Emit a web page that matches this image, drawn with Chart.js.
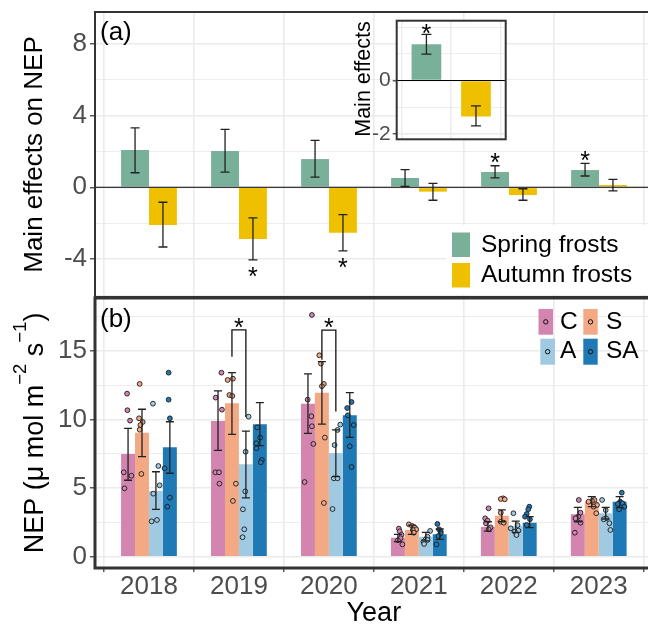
<!DOCTYPE html>
<html><head><meta charset="utf-8">
<script src="https://cdn.jsdelivr.net/npm/chart.js@4.4.1/dist/chart.umd.min.js"></script>
<style>
html,body{margin:0;padding:0;background:#fff;overflow:hidden;}
body{width:648px;height:626px;position:relative;}
canvas{position:absolute;display:block;}
#ca{left:0;top:0;}
#cb{left:0;top:290px;}
#ci{left:350px;top:10px;}
</style></head>
<body>
<canvas id="ca" width="656" height="298"></canvas>
<canvas id="cb" width="656" height="336"></canvas>
<canvas id="ci" width="160" height="135"></canvas>
<script>
// ---------------- data: panel (a) ----------------
const years = ['2018','2019','2020','2021','2022','2023'];
const effectLabels = ['Spring frosts','Autumn frosts'];
const springMean = [2.07, 2.02, 1.57, 0.52, 0.85, 0.96];
const springLo   = [0.81, 0.85, 0.57, 0.05, 0.53, 0.63];
const springHi   = [3.31, 3.22, 2.61, 0.98, 1.20, 1.33];
const springSig  = ['', '', '', '', '*', '*'];
const autumnMean = [-2.09, -2.87, -2.52, -0.24, -0.43, 0.13];
const autumnLo   = [-3.32, -4.04, -3.54, -0.72, -0.72, -0.20];
const autumnHi   = [-0.83, -1.70, -1.52, 0.22, -0.08, 0.44];
const autumnSig  = ['', '*', '*', '', '', ''];
const yTicksA  = [-6, -4, -2, 0, 2, 4, 6, 8];
const yLabelsA = [-4, 0, 4, 8];

// ---------------- data: inset ----------------
const insetMean = [1.36, -1.35];
const insetLo   = [0.99, -1.70];
const insetHi   = [1.73, -0.95];
const insetSig  = ['*', ''];
const yTicksI  = [-2, -1, 0, 1, 2];
const yLabelsI = [-2, 0];

// ---------------- data: panel (b) ----------------
const treatments = ['C', 'S', 'A', 'SA'];
const meanC  = [7.50, 9.90, 11.17, 1.39, 2.19, 3.09];
const loC    = [5.58, 7.76, 9.00, 1.10, 1.87, 2.55];
const hiC    = [9.37, 12.10, 13.34, 1.63, 2.55, 3.60];
const meanS  = [9.05, 11.20, 11.97, 1.95, 2.99, 4.01];
const loS    = [7.30, 8.93, 9.68, 1.63, 2.55, 3.65];
const hiS    = [10.76, 13.43, 14.23, 2.30, 3.41, 4.38];
const meanA  = [4.80, 6.74, 7.57, 1.46, 2.24, 3.17];
const loA    = [3.46, 4.30, 5.84, 1.15, 1.78, 2.75];
const hiA    = [6.20, 9.17, 9.25, 1.78, 2.60, 3.60];
const meanSA = [7.98, 9.66, 10.32, 1.63, 2.48, 4.01];
const loSA   = [6.09, 8.10, 8.71, 1.27, 2.12, 3.58];
const hiSA   = [9.85, 11.24, 11.97, 2.02, 2.92, 4.38];

const ptsC = [
  [11.9, 10.69, 9.93, 6.16, 5.91, 4.99],
  [13.43, 11.61, 10.73, 6.16, 6.16, 5.33],
  [17.64, 11.46, 10.25, 9.52, 8.23, 5.45],
  [2.05, 1.85, 1.6, 1.35, 1.2, 0.9],
  [3.53, 2.8, 2.63, 2.44, 2.14, 2.0],
  [4.14, 3.21, 2.92, 2.8, 2.48, 1.75]];
const jitC = [
  [-0.011, -0.007, 0.022, -0.048, 0.038, -0.040],
  [0.038, -0.026, 0.044, -0.029, 0.011, 0.016],
  [0.044, -0.003, 0.038, 0.044, 0.060, -0.037],
  [0.01, 0.02, 0.04, 0.03, 0.0, 0.05],
  [0.008, -0.03, -0.003, -0.022, 0.03, 0.008],
  [0.011, 0.03, 0.004, -0.026, 0.03, -0.033]];
const ptsS = [
  [12.61, 10.1, 9.83, 9.61, 9.27, 6.04],
  [12.99, 12.9, 11.8, 11.73, 5.33, 4.07],
  [14.7, 14.09, 12.61, 12.44, 8.69, 3.92],
  [2.36, 2.24, 2.12, 2.0, 1.95, 1.75],
  [4.26, 4.21, 4.19, 3.2, 2.55, 2.48],
  [4.14, 4.07, 4.01, 3.77, 3.65, 3.17]];
const jitS = [
  [-0.026, -0.033, 0.008, -0.018, -0.026, -0.007],
  [0.011, -0.048, -0.029, 0.004, 0.044, 0.011],
  [-0.029, -0.011, 0.022, 0.0, 0.033, 0.022],
  [-0.033, 0.003, 0.033, 0.048, 0.011, 0.022],
  [0.014, -0.011, 0.033, -0.011, -0.011, 0.022],
  [0.031, 0.002, -0.036, 0.058, 0.02, 0.05]];
const ptsA = [
  [11.17, 6.62, 5.21, 4.6, 2.68, 2.58],
  [10.22, 7.66, 4.77, 3.46, 2.0, 1.42],
  [9.64, 9.25, 8.15, 5.72, 5.72, 3.48],
  [1.88, 1.46, 1.27, 1.22, 1.1, 0.93],
  [3.17, 2.3, 2.07, 1.9, 1.83, 1.58],
  [4.14, 3.4, 2.8, 2.73, 2.44, 1.95]];
const jitA = [
  [-0.033, 0.027, 0.041, -0.029, 0.011, -0.048],
  [0.030, -0.003, -0.007, -0.033, -0.018, -0.037],
  [0.049, 0.019, -0.014, -0.022, 0.019, -0.037],
  [0.048, 0.019, 0.0, 0.019, -0.026, -0.019],
  [-0.026, 0.02, -0.056, 0.03, -0.011, 0.008],
  [-0.04, 0.0, 0.004, -0.022, 0.041, 0.052]];
const ptsSA = [
  [13.43, 11.46, 10.1, 6.45, 4.31, 3.65],
  [9.44, 8.69, 8.28, 7.91, 7.06, 6.89],
  [11.29, 10.85, 10.32, 9.61, 8.06, 6.55],
  [2.39, 2.0, 1.83, 1.71, 1.51, 0.9],
  [3.65, 3.46, 3.12, 2.92, 2.73, 2.31],
  [4.67, 4.01, 3.9, 3.85, 3.65, 3.46]];
const jitSA = [
  [-0.014, -0.014, 0.0, -0.059, 0.0, -0.029],
  [-0.029, 0.004, -0.040, -0.037, 0.022, 0.011],
  [0.019, -0.029, -0.022, 0.044, 0.0, 0.019],
  [-0.026, -0.008, 0.011, 0.011, -0.014, -0.037],
  [-0.004, -0.016, -0.033, -0.052, 0.003, -0.033],
  [0.024, 0.006, 0.031, -0.02, 0.053, -0.006]];

const bracketYear  = [1, 2];          // index into years
const bracketTop   = [16.55, 16.53];
const bracketLeft  = [14.6, 14.38];
const bracketRight = [10.2, 10.6];
const bracketSig   = ['*', '*'];
const yTicksB  = [0, 2.5, 5, 7.5, 10, 12.5, 15, 17.5];
const yLabelsB = [0, 5, 10, 15];

// ---------------- styles ----------------
const FONT = "'Liberation Sans', Arial, Helvetica, sans-serif";
Chart.defaults.font.family = FONT;
Chart.defaults.animation = false;
const COL_SPRING = '#79B09A', COL_AUTUMN = '#EFC000';
const COL_T = ['#D385B0', '#F4A985', '#9FCAE2', '#1F79B5'];
const GRID = '#EBEBEB', TICKTXT = '#4D4D4D', FRAME = '#333333';
const CAT_PCT = 0.62;

const meanB = [meanC, meanS, meanA, meanSA];
const loB = [loC, loS, loA, loSA];
const hiB = [hiC, hiS, hiA, hiSA];
const ptsB = [ptsC, ptsS, ptsA, ptsSA];
const jitB = [jitC, jitS, jitA, jitSA];

function fixTicks(vals) { return s => { s.ticks = vals.map(v => ({ value: v })); }; }
function isMaj(c, major) { return c.tick && major.includes(c.tick.value); }
function errBar(ctx, x, y1, y2, cap) {
  ctx.beginPath();
  ctx.moveTo(x, y1); ctx.lineTo(x, y2);
  ctx.moveTo(x - cap / 2, y1); ctx.lineTo(x + cap / 2, y1);
  ctx.moveTo(x - cap / 2, y2); ctx.lineTo(x + cap / 2, y2);
  ctx.stroke();
}
function star(ctx, x, cy, size) {
  ctx.font = size + 'px ' + FONT; ctx.textAlign = 'center'; ctx.textBaseline = 'alphabetic';
  ctx.fillStyle = '#000'; ctx.fillText('*', x, cy + 0.58 * size);
}
function frame(ctx, ca, w) {
  ctx.strokeStyle = FRAME; ctx.lineWidth = w;
  ctx.strokeRect(ca.left, ca.top, ca.right - ca.left, ca.bottom - ca.top);
}
function yScale(min, max, ticks, labels, width, fontSize, tl, pad) {
  return {
    type: 'linear', min: min, max: max,
    afterBuildTicks: fixTicks(ticks),
    afterFit: s => { s.width = width; s.paddingTop = 0; s.paddingBottom = 0; },
    ticks: { autoSkip: false, color: TICKTXT, padding: pad, font: { size: fontSize, lineHeight: 1 },
      callback: v => labels.includes(v) ? String(v) : '' },
    grid: { color: GRID, tickLength: tl, tickWidth: 1.2,
      lineWidth: c => isMaj(c, labels) ? 1.6 : 0.9,
      tickColor: c => isMaj(c, labels) ? FRAME : 'rgba(0,0,0,0)' },
    border: { display: false }
  };
}

// ---------------- panel (a) ----------------
const plugA = {
  id: 'plugA',
  afterDatasetsDraw(chart) {
    const { ctx, chartArea: ca, scales: { y } } = chart;
    ctx.save();
    const y0 = y.getPixelForValue(0);
    ctx.strokeStyle = '#000'; ctx.lineWidth = 1.1;
    ctx.beginPath(); ctx.moveTo(ca.left, y0); ctx.lineTo(ca.right, y0); ctx.stroke();
    const sets = [[springMean, springLo, springHi, springSig], [autumnMean, autumnLo, autumnHi, autumnSig]];
    sets.forEach((s, di) => {
      const meta = chart.getDatasetMeta(di);
      s[0].forEach((m, i) => {
        const x = meta.data[i].x;
        const yl = y.getPixelForValue(s[1][i]), yh = y.getPixelForValue(s[2][i]);
        ctx.strokeStyle = '#222'; ctx.lineWidth = 1.3;
        errBar(ctx, x, yh, yl, 9);
        if (s[3][i]) { if (m >= 0) star(ctx, x, yh - 9, 25); else star(ctx, x, yl + 10.5, 25); }
      });
    });
    ctx.restore();
  },
  afterDraw(chart) {
    const { ctx, chartArea: ca } = chart;
    ctx.save();
    // legend
    ctx.fillStyle = '#fff'; ctx.fillRect(446, 225, 220, 69);
    ctx.fillStyle = COL_SPRING; ctx.fillRect(452, 232.5, 18, 24.5);
    ctx.fillStyle = COL_AUTUMN; ctx.fillRect(452, 263, 18, 24.5);
    ctx.fillStyle = '#000'; ctx.font = '24.5px ' + FONT; ctx.textAlign = 'left'; ctx.textBaseline = 'middle';
    ctx.fillText(effectLabels[0], 481, 245);
    ctx.fillText(effectLabels[1], 481, 275.5);
    // panel tag
    ctx.font = '26px ' + FONT; ctx.fillText('(a)', 100, 33);
    frame(ctx, ca, 2);
    // y title
    ctx.translate(35, (ca.top + ca.bottom) / 2); ctx.rotate(-Math.PI / 2);
    ctx.textAlign = 'center'; ctx.font = '26px ' + FONT; ctx.fillStyle = '#000';
    ctx.fillText('Main effects on NEP', 0, 0);
    ctx.restore();
  }
};

new Chart(document.getElementById('ca'), {
  type: 'bar',
  data: {
    datasets: [
      { label: effectLabels[0], data: springMean.map((v, i) => ({ x: i + 1, y: v })), backgroundColor: COL_SPRING,
        categoryPercentage: CAT_PCT, barPercentage: 1, borderWidth: 0 },
      { label: effectLabels[1], data: autumnMean.map((v, i) => ({ x: i + 1, y: v })), backgroundColor: COL_AUTUMN,
        categoryPercentage: CAT_PCT, barPercentage: 1, borderWidth: 0 }
    ]
  },
  options: {
    responsive: false, devicePixelRatio: 1, events: [],
    layout: { padding: { top: 12, right: 3, left: 0, bottom: 0 } },
    plugins: { legend: { display: false }, tooltip: { enabled: false } },
    scales: {
      x: { type: 'linear', min: 0.4, max: 6.6, offset: false,
        afterBuildTicks: fixTicks(years.map((_, i) => i + 1)),
        afterFit: s => { s.height = 1; s.paddingLeft = 0; s.paddingRight = 0; },
        ticks: { display: false },
        grid: { color: GRID, lineWidth: 1.6, drawTicks: false },
        border: { display: false } },
      y: yScale(-6.1, 9.75, yTicksA, yLabelsA, 95, 26, 5, 3)
    }
  },
  plugins: [plugA]
});

// ---------------- inset ----------------
const plugI = {
  id: 'plugI',
  beforeDraw(chart) {
    const { ctx, chartArea: ca } = chart;
    ctx.save(); ctx.fillStyle = '#fff';
    ctx.fillRect(ca.left, ca.top, ca.right - ca.left, ca.bottom - ca.top); ctx.restore();
  },
  afterDatasetsDraw(chart) {
    const { ctx, chartArea: ca, scales: { y } } = chart;
    ctx.save();
    const y0 = y.getPixelForValue(0);
    ctx.strokeStyle = '#000'; ctx.lineWidth = 1.1;
    ctx.beginPath(); ctx.moveTo(ca.left, y0); ctx.lineTo(ca.right, y0); ctx.stroke();
    const meta = chart.getDatasetMeta(0);
    insetMean.forEach((m, i) => {
      const x = meta.data[i].x;
      const yl = y.getPixelForValue(insetLo[i]), yh = y.getPixelForValue(insetHi[i]);
      ctx.strokeStyle = '#222'; ctx.lineWidth = 1.3;
      errBar(ctx, x, yh, yl, 10);
      if (insetSig[i]) { if (m >= 0) star(ctx, x, yh - 6.5, 25); else star(ctx, x, yl + 10, 25); }
    });
    ctx.restore();
  },
  afterDraw(chart) {
    const { ctx, chartArea: ca } = chart;
    ctx.save();
    frame(ctx, ca, 2);
    ctx.translate(14, 69); ctx.rotate(-Math.PI / 2);
    ctx.textAlign = 'center'; ctx.textBaseline = 'middle'; ctx.font = '21.5px ' + FONT; ctx.fillStyle = '#000';
    ctx.fillText('Main effects', 0, 0);
    ctx.restore();
  }
};

new Chart(document.getElementById('ci'), {
  type: 'bar',
  data: {
    datasets: [{ data: insetMean.map((v, i) => ({ x: i + 1, y: v })), backgroundColor: [COL_SPRING, COL_AUTUMN],
      categoryPercentage: 0.6, barPercentage: 1, borderWidth: 0 }]
  },
  options: {
    responsive: false, devicePixelRatio: 1, events: [],
    layout: { padding: { top: 10.7, right: 4.3, left: 0, bottom: 5.7 } },
    plugins: { legend: { display: false }, tooltip: { enabled: false } },
    scales: {
      x: { type: 'linear', min: 0.4, max: 2.6, offset: false,
        afterBuildTicks: fixTicks([1, 2]),
        afterFit: s => { s.height = 0; s.paddingLeft = 0; s.paddingRight = 0; },
        ticks: { display: false },
        grid: { color: GRID, lineWidth: 1.4, drawTicks: false },
        border: { display: false } },
      y: yScale(-2.2, 2.24, yTicksI, yLabelsI, 46.7, 21, 4, 2)
    }
  },
  plugins: [plugI]
});

// ---------------- panel (b) ----------------
const plugB = {
  id: 'plugB',
  afterDatasetsDraw(chart) {
    const { ctx, scales: { y } } = chart;
    ctx.save();
    ctx.strokeStyle = '#222'; ctx.lineWidth = 1.3;
    for (let k = 0; k < 4; k++) {
      const meta = chart.getDatasetMeta(k);
      meanB[k].forEach((m, i) => {
        const x = meta.data[i].x;
        errBar(ctx, x, y.getPixelForValue(hiB[k][i]), y.getPixelForValue(loB[k][i]), 8);
      });
    }
    bracketYear.forEach((i, j) => {
      const xl = chart.getDatasetMeta(1).data[i].x, xr = chart.getDatasetMeta(2).data[i].x;
      const yt = y.getPixelForValue(bracketTop[j]);
      ctx.strokeStyle = '#111'; ctx.lineWidth = 1.3;
      ctx.beginPath();
      ctx.moveTo(xl, y.getPixelForValue(bracketLeft[j])); ctx.lineTo(xl, yt);
      ctx.lineTo(xr, yt); ctx.lineTo(xr, y.getPixelForValue(bracketRight[j]));
      ctx.stroke();
      if (bracketSig[j]) star(ctx, (xl + xr) / 2, yt - 8.5, 25);
    });
    ctx.restore();
  },
  afterDraw(chart) {
    const { ctx, chartArea: ca } = chart;
    const off = 290;
    ctx.save();
    // legend
    const boxes = [[538.5, 309, 14.5, 25.7], [583.3, 309, 14.4, 25.7], [540.3, 338.7, 14.7, 26], [583.3, 338.7, 14.4, 26]];
    const txt = [[560, 322], [606, 322], [560, 351.7], [606, 351.7]];
    boxes.forEach((b, k) => {
      ctx.fillStyle = COL_T[k]; ctx.fillRect(b[0], b[1] - off, b[2], b[3]);
      ctx.beginPath(); ctx.arc(b[0] + b[2] / 2, b[1] - off + b[3] / 2, 2.2, 0, Math.PI * 2);
      ctx.strokeStyle = '#111'; ctx.lineWidth = 1; ctx.stroke();
      ctx.fillStyle = '#000'; ctx.font = '24.5px ' + FONT; ctx.textAlign = 'left'; ctx.textBaseline = 'middle';
      ctx.fillText(treatments[k], txt[k][0], txt[k][1] - off);
    });
    ctx.font = '26px ' + FONT; ctx.fillText('(b)', 100, 320 - off);
    frame(ctx, ca, 3);
    // y title with superscripts
    const parts = [['NEP (\u03bc mol m', false], ['\u22122', true], [' s', false], ['\u22121', true], [')', false]];
    const fMain = '27px ' + FONT, fSup = '18.5px ' + FONT;
    let W = 0;
    parts.forEach(p => { ctx.font = p[1] ? fSup : fMain; W += ctx.measureText(p[0]).width; });
    ctx.translate(36, (ca.top + ca.bottom) / 2); ctx.rotate(-Math.PI / 2);
    ctx.textAlign = 'left'; ctx.textBaseline = 'middle'; ctx.fillStyle = '#000';
    let x = -W / 2;
    parts.forEach(p => {
      ctx.font = p[1] ? fSup : fMain;
      ctx.fillText(p[0], x, p[1] ? -15.5 : 0);
      x += ctx.measureText(p[0]).width;
    });
    ctx.restore();
  }
};

const barSets = treatments.map((t, k) => ({
  type: 'bar', label: t, order: 2,
  data: meanB[k].map((v, i) => ({ x: i + 1, y: v })),
  backgroundColor: COL_T[k], borderWidth: 0,
  categoryPercentage: CAT_PCT, barPercentage: 1
}));
const pointSets = treatments.map((t, k) => {
  const data = [];
  ptsB[k].forEach((arr, i) => arr.forEach((v, p) => {
    data.push({ x: i + 1 + (k - 1.5) * (CAT_PCT / 4) + jitB[k][i][p], y: v });
  }));
  return { type: 'scatter', label: t + ' obs', order: 1, data: data,
    backgroundColor: COL_T[k], borderColor: '#1a1a1a', borderWidth: 0.9, pointRadius: 2.4, pointHoverRadius: 2.4 };
});

new Chart(document.getElementById('cb'), {
  type: 'bar',
  data: { datasets: barSets.concat(pointSets) },
  options: {
    responsive: false, devicePixelRatio: 1, events: [],
    layout: { padding: { top: 8, right: 3, left: 0, bottom: 0 } },
    plugins: { legend: { display: false }, tooltip: { enabled: false } },
    scales: {
      x: { type: 'linear', min: 0.4, max: 6.6, offset: false,
        afterBuildTicks: fixTicks(years.map((_, i) => i + 1)),
        afterFit: s => { s.height = 58; s.paddingLeft = 0; s.paddingRight = 0; },
        ticks: { autoSkip: false, maxRotation: 0, minRotation: 0, color: TICKTXT, padding: 2,
          font: { size: 26, lineHeight: 1 }, callback: v => years[v - 1] },
        grid: { color: GRID, lineWidth: 1.6, tickLength: 4, tickColor: FRAME, tickWidth: 1.2 },
        title: { display: true, text: 'Year', color: '#000', font: { size: 27, lineHeight: 0.8 }, padding: { top: 0, bottom: 2 } },
        border: { display: false } },
      y: yScale(-0.825, 18.88, yTicksB, yLabelsB, 95, 26, 5, 3)
    }
  },
  plugins: [plugB]
});
</script>
</body></html>
